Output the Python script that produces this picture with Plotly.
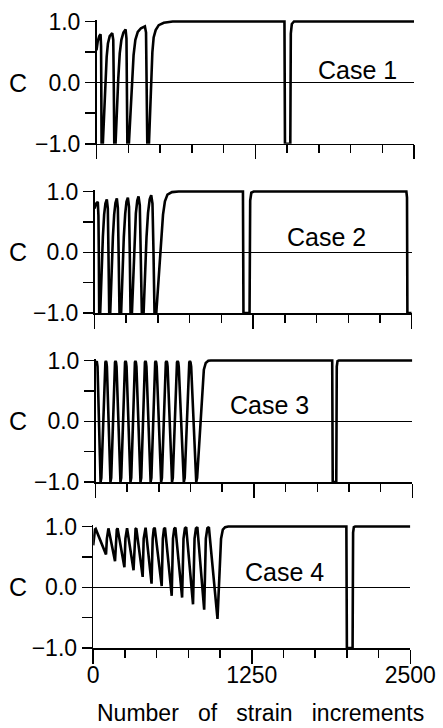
import plotly.graph_objects as go

# ---------------- data ----------------
case1_x = [0, 10, 22, 32, 36, 40, 50, 60, 70, 80, 90, 104, 124, 132, 136, 140,
           150, 160, 171, 183, 196, 212, 229, 236, 239, 243,
           255, 267, 280, 292, 306, 325, 350, 381, 390, 395, 400,
           413, 422, 431, 440, 450, 466, 490, 530, 600,
           1480, 1484, 1526, 1530, 1538, 1555, 2500]
case1_c = [0.53, 0.68, 0.76, 0.79, 0.6, -1.0, -1.0, -0.5, 0.0, 0.42, 0.64, 0.76, 0.81, 0.7, 0.0, -1.0,
           -1.0, -0.45, 0.05, 0.48, 0.7, 0.82, 0.87, 0.72, 0.0, -1.0,
           -1.0, -0.45, 0.05, 0.45, 0.7, 0.83, 0.89, 0.92, 0.82, 0.0, -1.0,
           -1.0, -0.45, 0.05, 0.5, 0.74, 0.86, 0.94, 0.98, 1.0,
           1.0, -1.0, -1.0, 0.8, 0.96, 1.0, 1.0]

case2_x = [0, 12, 26, 31, 34, 37,
           45, 55, 66, 76, 86, 97, 105, 110, 116,
           124, 134, 145, 155, 165, 176, 184, 190, 197,
           210, 220, 231, 242, 252, 263, 272, 278, 284,
           295, 305, 316, 326, 337, 347, 357, 365, 373,
           387, 398, 410, 422, 435, 447, 457, 465, 473,
           487, 505, 521, 540, 555, 575, 610, 663,
           1170, 1174, 1222, 1227, 1236, 1255, 2458, 2463, 2466, 2500]
case2_c = [0.72, 0.8, 0.83, 0.6, 0.0, -1.0,
           -1.0, -0.35, 0.25, 0.62, 0.8, 0.87, 0.72, 0.0, -1.0,
           -1.0, -0.35, 0.25, 0.62, 0.81, 0.885, 0.73, 0.0, -1.0,
           -1.0, -0.35, 0.25, 0.63, 0.83, 0.9, 0.75, 0.0, -1.0,
           -1.0, -0.35, 0.25, 0.64, 0.85, 0.92, 0.77, 0.0, -1.0,
           -1.0, -0.35, 0.25, 0.65, 0.87, 0.94, 0.8, 0.0, -1.0,
           -1.0, -0.45, 0.0, 0.62, 0.84, 0.95, 0.99, 1.0,
           1.0, -1.0, -1.0, 0.85, 0.98, 1.0, 1.0, 0.9, -1.0, -1.0]

case3_x = [0, 4, 10, 16, 34, 40,
           46, 74, 78, 82, 86, 90, 112, 118,
           124, 150, 154, 158, 162, 166, 191, 197,
           203, 229, 233, 237, 241, 245, 270, 276,
           282, 307, 311, 315, 319, 323, 349, 355,
           361, 386, 390, 394, 398, 402, 429, 435,
           441, 467, 471, 475, 479, 483, 512, 518,
           524, 551, 555, 560, 565, 569, 598, 604,
           610, 639, 643, 648, 653, 657, 690, 697,
           704, 735, 740, 745, 750, 755, 788, 795,
           802, 828, 845, 855, 870, 890, 910,
           1868, 1872, 1900, 1904, 1910, 1920, 2500]
case3_c = [0.95, 0.99, 0.99, 0.9, -0.93, -1.0,
           -0.93, 0.9, 0.97, 0.99, 0.97, 0.9, -0.93, -1.0,
           -0.93, 0.9, 0.97, 0.99, 0.97, 0.9, -0.93, -1.0,
           -0.93, 0.9, 0.97, 0.99, 0.97, 0.9, -0.93, -1.0,
           -0.93, 0.9, 0.97, 0.99, 0.97, 0.9, -0.93, -1.0,
           -0.93, 0.9, 0.97, 0.99, 0.97, 0.9, -0.93, -1.0,
           -0.93, 0.9, 0.97, 0.99, 0.97, 0.9, -0.93, -1.0,
           -0.93, 0.9, 0.97, 0.99, 0.97, 0.9, -0.93, -1.0,
           -0.93, 0.9, 0.97, 0.99, 0.97, 0.9, -0.93, -1.0,
           -0.93, 0.9, 0.97, 0.99, 0.97, 0.9, -0.93, -1.0,
           -0.93, 0.0, 0.6, 0.85, 0.96, 0.995, 1.0,
           1.0, -1.0, -1.0, 0.9, 0.99, 1.0, 1.0]

case4_x = [0, 6, 14, 20, 101, 108, 114, 120, 172, 179, 186, 192,
           246, 254, 261, 267, 318, 326, 334, 340, 390, 398, 406, 413,
           460, 469, 477, 485, 540, 549, 558, 566, 619, 629, 639, 648,
           701, 712, 723, 733, 787, 799, 810, 821, 875, 888, 900, 912,
           980, 995, 1008, 1022, 1040, 1065,
           1996, 2000, 2045, 2049, 2055, 2065, 2500]
case4_c = [0.69, 0.85, 0.95, 0.96, 0.54, 0.8, 0.95, 0.97, 0.43, 0.8, 0.95, 0.97,
           0.33, 0.8, 0.95, 0.97, 0.28, 0.8, 0.96, 0.97, 0.17, 0.8, 0.96, 0.98,
           0.06, 0.8, 0.96, 0.98, 0.02, 0.8, 0.96, 0.98, -0.14, 0.8, 0.96, 0.98,
           -0.17, 0.8, 0.97, 0.99, -0.28, 0.8, 0.97, 0.99, -0.37, 0.8, 0.97, 0.99,
           -0.52, 0.3, 0.8, 0.95, 0.99, 1.0,
           1.0, -1.0, -1.0, 0.9, 0.99, 1.0, 1.0]

case_labels = ["Case 1", "Case 2", "Case 3", "Case 4"]
case_label_x = [2059, 1831, 1374, 1508]
case_label_c = [0.21, 0.25, 0.26, 0.25]

x_tick_values = [0, 1250, 2500]
x_tick_labels = ["0", "1250", "2500"]
x_minor_ticks = [250, 500, 750, 1000, 1500, 1750, 2000, 2250]
y_tick_values = [-1.0, -0.5, 0.0, 0.5, 1.0]
y_tick_labels = ["\u22121.0", "", "0.0", "", "1.0"]

x_title = "Number\u00a0\u00a0 of\u00a0\u00a0 strain\u00a0\u00a0 increments"
y_title = "C"

# ---------------- layout geometry (pixels) ----------------
W, H = 443, 728
panel_y_top = [21.5, 191.5, 360.5, 526.5]      # pixel row of C = 1.0
panel_y_bot = [143.8, 313.0, 482.0, 648.0]     # pixel row of C = -1.0
panel_x_left = [96.5, 94.5, 95.5, 93.2]        # pixel col of x = 0
panel_x_right = [414.0, 411.7, 412.3, 410.3]   # pixel col of x = 2500
Y_MAX = 1.025

FONT = "Liberation Sans, Arial, Helvetica, sans-serif"

series = [(case1_x, case1_c), (case2_x, case2_c), (case3_x, case3_c), (case4_x, case4_c)]

fig = go.Figure()
layout = dict(
    width=W, height=H,
    margin=dict(l=0, r=0, t=0, b=0),
    paper_bgcolor="white", plot_bgcolor="white",
    showlegend=False,
    template="none",
    font=dict(family=FONT, color="black", size=23),
)
annotations = []

for k in range(4):
    sx = "" if k == 0 else str(k + 1)
    xs, cs = series[k]
    fig.add_trace(go.Scatter(
        x=xs, y=cs, mode="lines",
        line=dict(color="black", width=2.6),
        xaxis="x" + sx, yaxis="y" + sx, hoverinfo="skip",
    ))
    unit = (panel_y_bot[k] - panel_y_top[k]) / 2.0
    top_px = panel_y_top[k] - (Y_MAX - 1.0) * unit
    ydom = [1 - panel_y_bot[k] / H, 1 - top_px / H]
    xdom = [panel_x_left[k] / W, panel_x_right[k] / W]

    layout["xaxis" + sx] = dict(
        domain=xdom, range=[0, 2500], anchor="y" + sx,
        showline=True, linecolor="black", linewidth=1.5,
        ticks="outside", tickmode="array",
        tickvals=x_tick_values, ticktext=x_tick_labels,
        ticklen=14, tickwidth=1.5, tickcolor="black",
        showticklabels=(k == 3),
        ticklabelstandoff=-8,
        tickfont=dict(family=FONT, size=23, color="black"),
        showgrid=False, zeroline=False, automargin=False,
        minor=dict(tickmode="array", tickvals=x_minor_ticks, ticks="outside",
                   ticklen=8, tickwidth=1.5, tickcolor="black", showgrid=False),
    )
    layout["yaxis" + sx] = dict(
        domain=ydom, range=[-1.0, Y_MAX], anchor="x" + sx,
        showline=True, linecolor="black", linewidth=1.5,
        ticks="outside", tickmode="array",
        tickvals=y_tick_values, ticktext=y_tick_labels,
        ticklen=10, tickwidth=1.5, tickcolor="black",
        tickfont=dict(family=FONT, size=23, color="black"),
        showgrid=False, zeroline=True, zerolinecolor="black", zerolinewidth=1.5,
        automargin=False,
    )
    annotations.append(dict(
        x=case_label_x[k], y=case_label_c[k], xref="x" + sx, yref="y" + sx,
        text=case_labels[k], showarrow=False,
        font=dict(family=FONT, size=25, color="black"),
        xanchor="center", yanchor="middle",
    ))
    zero_px = (panel_y_top[k] + panel_y_bot[k]) / 2.0
    annotations.append(dict(
        x=18 / W, y=1 - zero_px / H, xref="paper", yref="paper",
        text=y_title, showarrow=False,
        font=dict(family=FONT, size=25, color="black"),
        xanchor="center", yanchor="middle",
    ))

annotations.append(dict(
    x=260 / W, y=1 - 713 / H, xref="paper", yref="paper",
    text=x_title, showarrow=False,
    font=dict(family=FONT, size=23, color="black"),
    xanchor="center", yanchor="middle",
))
layout["annotations"] = annotations
fig.update_layout(**layout)
fig.write_html(
    "out.html",
    config={"displayModeBar": False, "staticPlot": True},
    post_script="document.body.style.margin='0';document.body.style.overflow='hidden';",
)
